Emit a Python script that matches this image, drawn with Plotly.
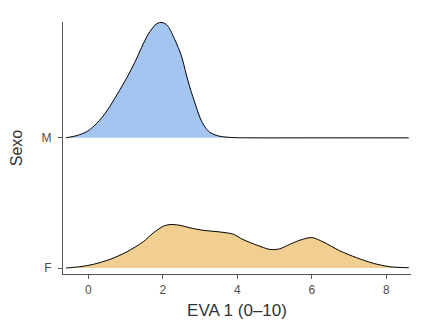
import plotly.graph_objects as go

# Categories (bottom to top)
categories = ["F", "M"]

# Density curve for M (scaled heights, in category units)
m_x = [-0.6, -0.30, -0.03, 0.24, 0.50, 0.77, 1.04, 1.26, 1.43, 1.61, 1.79, 1.87, 1.95, 2.05, 2.14, 2.32, 2.50,
       2.62, 2.74, 2.87, 3.00, 3.13, 3.26, 3.40, 3.53, 3.88, 4.5, 6.0, 8.6]
m_h = [0.0, 0.018, 0.050, 0.115, 0.208, 0.332, 0.466, 0.588, 0.695, 0.798, 0.866, 0.882, 0.887, 0.879, 0.857, 0.756, 0.628,
       0.496, 0.374, 0.260, 0.153, 0.084, 0.043, 0.023, 0.012, 0.002, 0.0, 0.0, 0.0]

# Density curve for F
f_x = [-0.6, -0.23, 0.13, 0.58, 1.03, 1.47, 1.74, 2.01, 2.19, 2.46, 2.74, 3.08, 3.53, 3.89, 4.15,
       4.52, 4.87, 5.13, 5.40, 5.68, 6.00, 6.30, 6.75, 7.20, 7.65, 8.09, 8.6]
f_h = [0.0, 0.010, 0.028, 0.066, 0.124, 0.201, 0.269, 0.321, 0.334, 0.328, 0.308, 0.290, 0.277, 0.260, 0.219,
       0.176, 0.143, 0.147, 0.181, 0.214, 0.234, 0.201, 0.132, 0.079, 0.036, 0.010, 0.002]

x_ticks = [0, 2, 4, 6, 8]

series = [
    ("M", m_x, m_h, "#A5C5F1"),
    ("F", f_x, f_h, "#F1CF90"),
]

fig = go.Figure()
for name, xs, hs, col in series:
    base = categories.index(name) + 1
    fig.add_trace(go.Scatter(x=xs, y=[base] * len(xs), mode="lines",
                             line=dict(width=0), hoverinfo="skip", showlegend=False))
    fig.add_trace(go.Scatter(x=xs, y=[base + h for h in hs], mode="lines",
                             line=dict(color="black", width=1, shape="spline", smoothing=0.8),
                             fill="tonexty", fillcolor=col, name=name, showlegend=False))

font_family = "Liberation Sans, Arial, sans-serif"
fig.update_layout(
    width=448, height=334,
    margin=dict(l=63, r=37, t=22, b=60),
    paper_bgcolor="white", plot_bgcolor="white",
    font=dict(family=font_family, color="#4D4D4D"),
    showlegend=False,
)
fig.update_xaxes(
    range=[-0.68, 8.66], tickvals=x_ticks, ticktext=[str(t) for t in x_ticks],
    showgrid=False, zeroline=False, showline=True, linecolor="#555555", linewidth=1.2,
    ticks="outside", ticklen=4, tickcolor="#555555", tickwidth=1,
    tickfont=dict(size=12, color="#4D4D4D"),
    title=dict(text="EVA 1 (0–10)", font=dict(size=17, color="#333333"), standoff=8),
)
fig.update_yaxes(
    range=[0.954, 2.89], tickvals=[1, 2], ticktext=categories,
    showgrid=False, zeroline=False, showline=True, linecolor="#555555", linewidth=1.2,
    ticks="outside", ticklen=4, tickcolor="#555555", tickwidth=1,
    tickfont=dict(size=12, color="#4D4D4D"), ticklabelstandoff=4,
    title=dict(text="Sexo", font=dict(size=16, color="#333333"), standoff=14),
)

fig.write_html("out.html")
